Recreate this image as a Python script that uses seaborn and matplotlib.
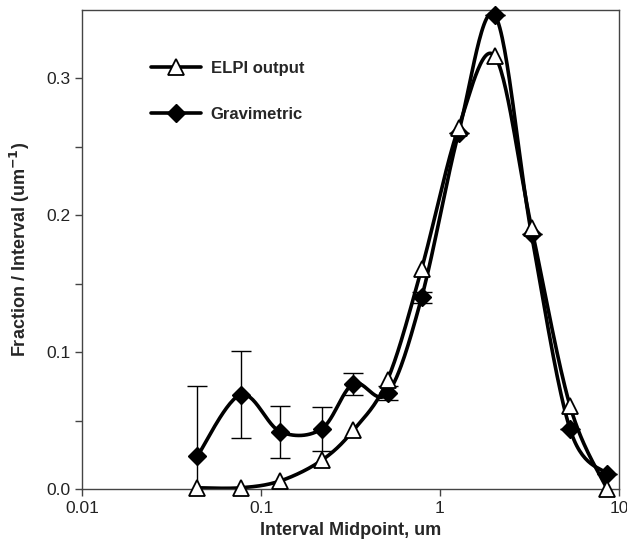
import numpy as np
import pandas as pd
import matplotlib
matplotlib.use("Agg")
import matplotlib.pyplot as plt
from matplotlib.lines import Line2D
import seaborn as sns

# 区間中点 (um) と各系列の値
midpoint = [0.044, 0.077, 0.128, 0.218, 0.328, 0.51, 0.79, 1.27, 2.03, 3.25, 5.33, 8.6]
elpi = [0.001, 0.001, 0.006, 0.021, 0.043, 0.080, 0.161, 0.264, 0.316, 0.191, 0.061, 0.0]
grav = [0.024, 0.069, 0.042, 0.044, 0.077, 0.070, 0.140, 0.260, 0.346, 0.186, 0.044, 0.011]
grav_err = [0.051, 0.032, 0.019, 0.016, 0.008, 0.005, 0.004, 0.0, 0.0, 0.0, 0.0, 0.0]

sns.set_style("ticks")
plt.rcParams["font.family"] = ["Liberation Sans", "DejaVu Sans"]


def smooth(xs, ys, n=30):
    # Excel風のスムージング線 (log x 空間での Catmull-Rom)
    lx = np.log10(xs)
    ys = np.asarray(ys, dtype=float)
    px = np.concatenate([[lx[0]], lx, [lx[-1]]])
    py = np.concatenate([[ys[0]], ys, [ys[-1]]])
    out_x, out_y = [], []
    for i in range(1, len(px) - 2):
        t = np.linspace(0, 1, n, endpoint=False)
        for p, out in ((px, out_x), (py, out_y)):
            p0, p1, p2, p3 = p[i - 1], p[i], p[i + 1], p[i + 2]
            out.extend(0.5 * (2 * p1 + (-p0 + p2) * t
                              + (2 * p0 - 5 * p1 + 4 * p2 - p3) * t ** 2
                              + (-p0 + 3 * p1 - 3 * p2 + p3) * t ** 3))
    out_x.append(lx[-1])
    out_y.append(ys[-1])
    return pd.DataFrame({"x": 10 ** np.array(out_x), "y": out_y})


fig = plt.figure(figsize=(6.27, 5.49), dpi=100)
ax = fig.add_axes([0.131, 0.109, 0.856, 0.873])

s_elpi = smooth(midpoint, elpi)
s_grav = smooth(midpoint, grav)
sns.lineplot(data=s_elpi, x="x", y="y", ax=ax, color="black", lw=2.6,
             sort=False, estimator=None, zorder=2)
sns.lineplot(data=s_grav, x="x", y="y", ax=ax, color="black", lw=2.6,
             sort=False, estimator=None, zorder=2)

ax.errorbar(midpoint, grav, yerr=grav_err, fmt="none", ecolor="black",
            elinewidth=1.0, capsize=7, capthick=1.0, zorder=1)

ax.plot(midpoint, grav, ls="none", marker="D", ms=9, mfc="black",
        mec="black", zorder=3, clip_on=False)
ax.plot(midpoint, elpi, ls="none", marker="^", ms=12, mfc="white",
        mec="black", mew=1.3, zorder=4, clip_on=False)

ax.set_xscale("log")
ax.set_xlim(0.01, 10)
ax.set_ylim(0, 0.35)
ax.set_yticks([0.0, 0.1, 0.2, 0.3])
ax.set_yticks([0.05, 0.15, 0.25], minor=True)
ax.set_xticks([0.01, 0.1, 1, 10])
ax.set_xticklabels(["0.01", "0.1", "1", "10"])
ax.xaxis.set_minor_locator(matplotlib.ticker.NullLocator())
ax.yaxis.set_major_formatter(matplotlib.ticker.FormatStrFormatter("%.1f"))
ax.tick_params(axis="both", which="major", labelsize=12.5, length=5,
               width=1, color="#444444", labelcolor="#222222", direction="out")
ax.tick_params(axis="y", which="minor", length=5, width=1, color="#444444")
for sp in ax.spines.values():
    sp.set_visible(True)
    sp.set_color("#444444")
    sp.set_linewidth(1)

ax.set_xlabel("Interval Midpoint, um", fontsize=13, fontweight="bold", labelpad=4)
ax.set_ylabel("Fraction / Interval (um$^{\\mathbf{-1}}$)", fontsize=13,
              fontweight="bold", labelpad=10)

handles = [
    Line2D([], [], color="black", lw=2.6, marker="^", ms=12, mfc="white",
           mec="black", mew=1.3),
    Line2D([], [], color="black", lw=2.6, marker="D", ms=9, mfc="black",
           mec="black"),
]
ax.legend(handles, ["ELPI output", "Gravimetric"], loc="upper left",
          bbox_to_anchor=(0.1, 0.925), frameon=False, handlelength=3,
          handletextpad=0.6, labelspacing=1.85,
          prop={"weight": "bold", "size": 12})

fig.savefig("out.png", dpi=100)
